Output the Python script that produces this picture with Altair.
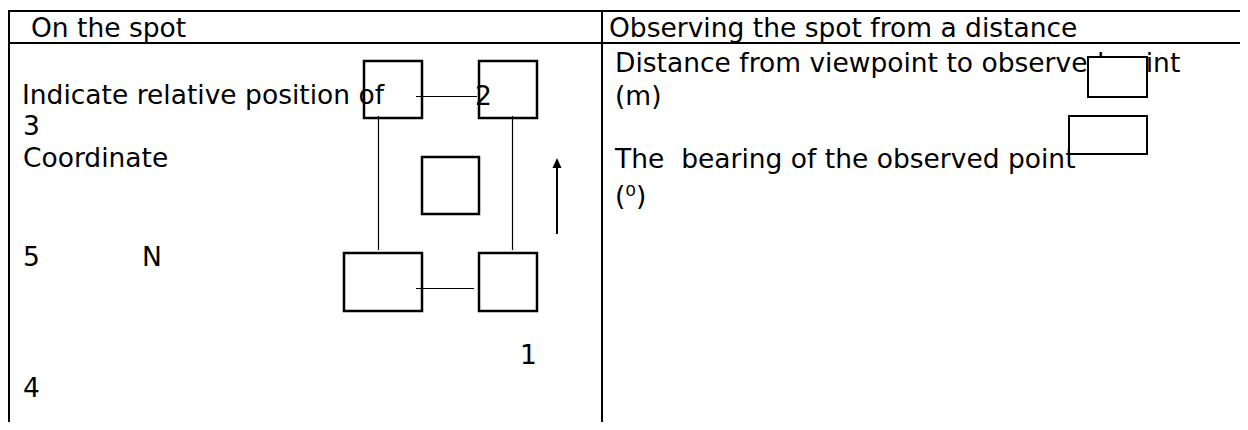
import altair as alt
import pandas as pd

# ---- content (page pixel frame) ----
# table grid lines
grid_x0 = [8, 8, 9, 602]
grid_x1 = [1248, 1248, 9, 602]
grid_y0 = [11, 43, 11, 11]
grid_y1 = [11, 43, 430, 430]

# sketch squares on the left
box_x0 = [364, 479, 422, 344, 479]
box_x1 = [422, 537, 479, 422, 537]
box_y0 = [61, 61, 157, 253, 253]
box_y1 = [118, 118, 214, 311, 311]

# thin connectors between squares
link_x0 = [416, 378.5, 512.5, 416]
link_x1 = [477, 378.5, 512.5, 474]
link_y0 = [96.5, 116, 116, 288.5]
link_y1 = [96.5, 250, 250, 288.5]

# north arrow
arrow_x = [557]
arrow_y0 = [234]
arrow_y1 = [166]
arrow_head_y = [163]

# answer boxes on the right (white filled, over the text)
ans_x0 = [1088, 1069]
ans_x1 = [1147, 1147]
ans_y0 = [57, 116]
ans_y1 = [97, 154]

labels = [
    "On the spot",
    "Observing the spot from a distance",
    "Indicate relative position of",
    "3",
    "Coordinate",
    "5",
    "N",
    "1",
    "4",
    "2",
    "Distance from viewpoint to observed point",
    "(m)",
    "The\u00a0 bearing of the observed point",
    "(\u2070)",
]
label_x = [31, 609, 22, 23, 23, 23, 142, 520, 23, 475, 615, 615, 615, 615]
label_y = [37, 37, 104, 135, 167, 266, 266, 364, 397, 105, 72, 105, 168, 205]

W, H = 1232, 414
xs = alt.Scale(domain=[8, 8 + W], nice=False, zero=False)
ys = alt.Scale(domain=[8, 8 + H], nice=False, zero=False, reverse=True)

grid = pd.DataFrame({"x0": grid_x0, "x1": grid_x1, "y0": grid_y0, "y1": grid_y1})
boxes = pd.DataFrame({"x0": box_x0, "x1": box_x1, "y0": box_y0, "y1": box_y1})
links = pd.DataFrame({"x0": link_x0, "x1": link_x1, "y0": link_y0, "y1": link_y1})
arrow = pd.DataFrame({"x": arrow_x, "y0": arrow_y0, "y1": arrow_y1, "yh": arrow_head_y})
ans = pd.DataFrame({"x0": ans_x0, "x1": ans_x1, "y0": ans_y0, "y1": ans_y1})
texts = pd.DataFrame({"t": labels, "x": label_x, "y": label_y})


def seg(df, width, color):
    return alt.Chart(df).mark_rule(strokeWidth=width, color=color).encode(
        x=alt.X("x0:Q", scale=xs, axis=None),
        x2="x1:Q",
        y=alt.Y("y0:Q", scale=ys, axis=None),
        y2="y1:Q",
    )


grid_layer = seg(grid, 2, "black")
link_layer = seg(links, 1.2, "black")

box_layer = alt.Chart(boxes).mark_rect(
    fill="white", fillOpacity=0, stroke="black", strokeWidth=2.5
).encode(
    x=alt.X("x0:Q", scale=xs, axis=None), x2="x1:Q",
    y=alt.Y("y0:Q", scale=ys, axis=None), y2="y1:Q",
)

arrow_line = alt.Chart(arrow).mark_rule(strokeWidth=2, color="black").encode(
    x=alt.X("x:Q", scale=xs, axis=None),
    y=alt.Y("y0:Q", scale=ys, axis=None), y2="y1:Q",
)
arrow_head = alt.Chart(arrow).mark_point(
    shape="M0,-1L0.9,1L-0.9,1Z", filled=True, size=100, color="black", opacity=1
).encode(
    x=alt.X("x:Q", scale=xs, axis=None),
    y=alt.Y("yh:Q", scale=ys, axis=None),
)

text_layer = alt.Chart(texts).mark_text(
    align="left", baseline="alphabetic", font="DejaVu Sans", fontSize=26.5, color="black"
).encode(
    x=alt.X("x:Q", scale=xs, axis=None),
    y=alt.Y("y:Q", scale=ys, axis=None),
    text="t:N",
)

ans_layer = alt.Chart(ans).mark_rect(
    fill="white", stroke="black", strokeWidth=2
).encode(
    x=alt.X("x0:Q", scale=xs, axis=None), x2="x1:Q",
    y=alt.Y("y0:Q", scale=ys, axis=None), y2="y1:Q",
)

chart = alt.layer(
    grid_layer, link_layer, box_layer, arrow_line, arrow_head, text_layer, ans_layer
).properties(
    width=W, height=H, padding=0, autosize=alt.AutoSizeParams(type="none"),
    background="white",
).configure_view(stroke=None)

chart.save("out.html", embed_options={"renderer": "svg", "actions": False})
